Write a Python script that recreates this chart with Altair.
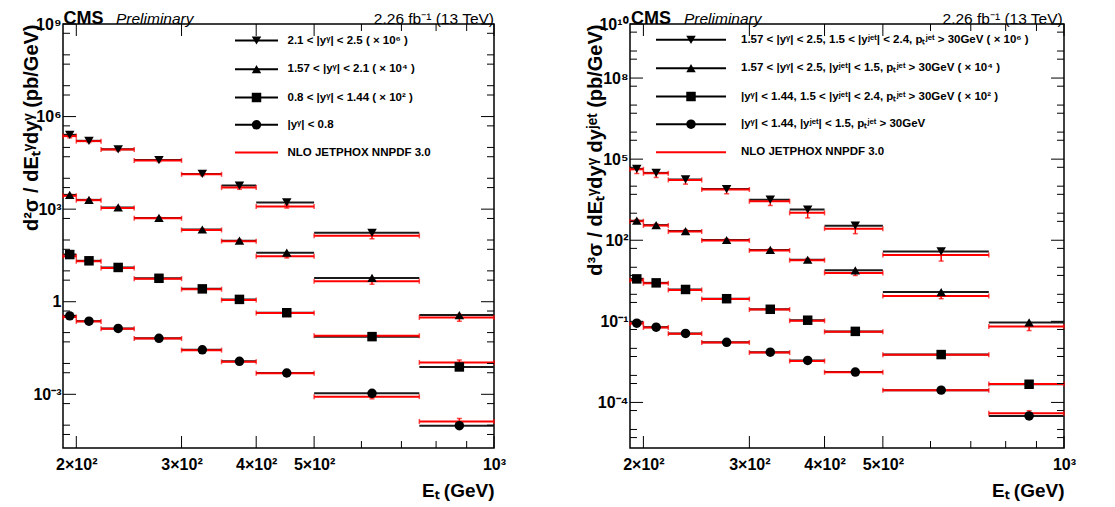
import altair as alt
import pandas as pd

FONT = "Liberation Sans"

# ---------------- data ----------------
bin_lo = [190, 200, 220, 250, 300, 350, 400, 500, 750]
bin_hi = [200, 220, 250, 300, 350, 400, 500, 750, 1000]
bin_c = [195, 210, 235, 275, 325, 375, 450, 625, 875]

series = ["down", "up", "square", "circle"]
shapes = {"down": "triangle-down", "up": "triangle-up", "square": "square", "circle": "circle"}

# left panel: d2sigma / dEt dy  (pb/GeV)
L_data = {
    "down": [2.56e5, 1.64e5, 8.7e4, 3.9e4, 1.38e4, 5.8e3, 1.65e3, 171],
    "up": [2.9e3, 2.0e3, 1.14e3, 519, 219, 95, 39, 5.9, 0.37],
    "square": [33.8, 21.2, 12.9, 5.75, 2.61, 1.19, 0.44, 0.074, 7.7e-3],
    "circle": [0.348, 0.235, 0.136, 0.065, 0.0277, 0.0117, 0.0049, 1.08e-3, 9.6e-5],
}
L_nlo = {
    "down": [2.33e5, 1.6e5, 8.5e4, 3.8e4, 1.35e4, 5.0e3, 1.23e3, 137],
    "up": [2.7e3, 1.95e3, 1.1e3, 505, 212, 92, 29.8, 4.6, 0.31],
    "square": [29.6, 20.5, 12.5, 5.6, 2.55, 1.13, 0.43, 0.079, 1.08e-2],
    "circle": [0.32, 0.23, 0.133, 0.064, 0.027, 0.0113, 0.0048, 8.4e-4, 1.32e-4],
}
L_err = {
    "down": [0.12, 0.10, 0.10, 0.10, 0.10, 0.12, 0.12, 0.20],
    "up": [0.10, 0.10, 0.10, 0.10, 0.10, 0.12, 0.12, 0.20, 0.25],
    "square": [0.08, 0.08, 0.08, 0.08, 0.08, 0.10, 0.10, 0.15, 0.20],
    "circle": [0.08, 0.08, 0.08, 0.08, 0.08, 0.10, 0.10, 0.15, 0.25],
}

# right panel: d3sigma / dEt dy dyjet  (pb/GeV)
R_data = {
    "down": [4.37e4, 3.1e4, 1.77e4, 7.85e3, 3.18e3, 1.37e3, 346, 38.6],
    "up": [527, 364, 219, 102, 44, 19, 7.7, 1.21, 0.091],
    "square": [3.72, 2.65, 1.51, 0.687, 0.279, 0.110, 0.0425, 5.9e-3, 4.7e-4],
    "circle": [0.0855, 0.061, 0.0358, 0.0168, 7.2e-3, 3.57e-3, 1.33e-3, 2.85e-4, 3.16e-5],
}
R_nlo = {
    "down": [4.2e4, 3.0e4, 1.7e4, 7.5e3, 2.76e3, 1.03e3, 269, 28.2],
    "up": [505, 350, 210, 98, 42, 18.3, 6.2, 0.86, 0.065],
    "square": [3.3, 2.55, 1.45, 0.665, 0.272, 0.105, 0.041, 5.8e-3, 4.8e-4],
    "circle": [0.083, 0.059, 0.035, 0.0165, 7.0e-3, 3.4e-3, 1.3e-3, 2.8e-4, 3.95e-5],
}
R_err = {
    "down": [0.30, 0.30, 0.30, 0.30, 0.30, 0.35, 0.35, 0.40],
    "up": [0.15, 0.15, 0.15, 0.15, 0.15, 0.15, 0.20, 0.20, 0.30],
    "square": [0.10, 0.10, 0.10, 0.10, 0.10, 0.10, 0.12, 0.15, 0.20],
    "circle": [0.10, 0.10, 0.10, 0.10, 0.10, 0.10, 0.12, 0.15, 0.25],
}

L_legend = [
    "2.1 < |yᵞ| < 2.5 ( × 10⁶ )",
    "1.57 < |yᵞ| < 2.1 ( × 10⁴ )",
    "0.8 < |yᵞ| < 1.44 ( × 10² )",
    "|yᵞ| < 0.8",
    "NLO JETPHOX NNPDF 3.0",
]
R_legend = [
    "1.57 < |yᵞ| < 2.5, 1.5 < |yʲᵉᵗ| < 2.4, pₜʲᵉᵗ > 30GeV ( × 10⁶ )",
    "1.57 < |yᵞ| < 2.5, |yʲᵉᵗ| < 1.5, pₜʲᵉᵗ > 30GeV ( × 10⁴ )",
    "|yᵞ| < 1.44, 1.5 < |yʲᵉᵗ| < 2.4, pₜʲᵉᵗ > 30GeV ( × 10² )",
    "|yᵞ| < 1.44, |yʲᵉᵗ| < 1.5, pₜʲᵉᵗ > 30GeV",
    "NLO JETPHOX NNPDF 3.0",
]
legend_kinds = ["down", "up", "square", "circle", "nlo"]

x_major = [200, 300, 400, 500, 1000]
x_major_labels = ["2×10²", "3×10²", "4×10²", "5×10²", "10³"]
x_minor = [600, 700, 800, 900]

L_y_major = [1e-3, 1, 1e3, 1e6, 1e9]
L_y_labels = ["10⁻³", "1", "10³", "10⁶", "10⁹"]
L_y_minor = [1e-4, 1e-2, 1e-1, 10, 100, 1e4, 1e5, 1e7, 1e8,
             5e-5, 5e-4, 5e-3, 5e-2, 0.5, 5, 50, 500, 5e3, 5e4, 5e5, 5e6, 5e7, 5e8]

R_y_major = [1e-4, 1e-1, 1e2, 1e5, 1e8, 1e10]
R_y_labels = ["10⁻⁴", "10⁻¹", "10²", "10⁵", "10⁸", "10¹⁰"]
R_y_minor = [1e-5, 1e-3, 1e-2, 1, 10, 1e3, 1e4, 1e6, 1e7, 1e9,
             5e-6, 5e-5, 5e-4, 5e-3, 5e-2, 0.5, 5, 50, 500, 5e3, 5e4, 5e5, 5e6, 5e7, 5e8, 5e9]

# ---------------- layout constants ----------------
TOP = 22.5      # page y of plot top
H = 424
LW, RW = 431, 434


def label_expr(vals, labels):
    e = "''"
    for v, l in zip(reversed(vals), reversed(labels)):
        e = f"datum.value == {repr(float(v))} ? '{l}' : ({e})"
    return e


def make_df(data, nlo, err):
    rows = []
    for s in series:
        for i, v in enumerate(data[s]):
            n = nlo[s][i]
            e = err[s][i]
            rows.append(dict(series=s, shape=shapes[s], lo=bin_lo[i], hi=bin_hi[i], c=bin_c[i],
                             val=v, nlo=n, nlo_lo=n * (1 - e), nlo_hi=n * (1 + e)))
    return pd.DataFrame(rows)


def panel(df, W, ydom, ymaj, ylab, ymin, ytitle, ytitle_x, legend, leg_geom, top_geom, spacer=False):
    xs = alt.Scale(type="log", domain=[190, 1000], nice=False)
    ys = alt.Scale(type="log", domain=ydom, nice=False)
    xaxis = alt.Axis(values=x_major, labelExpr=label_expr(x_major, x_major_labels), ticks=False, tickSize=0,
                     domain=False, grid=False, labelPadding=8, labelFont=FONT, labelFontSize=16,
                     labelFontWeight="bold", labelColor="black", labelFlush=False, labelOverlap=False,
                     title="Eₜ (GeV)", titleFont=FONT, titleFontSize=19, titleFontWeight="bold",
                     titleColor="black", titleX=W, titleY=48, titleAlign="right", titleBaseline="alphabetic")
    yaxis = alt.Axis(values=ymaj, labelExpr=label_expr(ymaj, ylab), ticks=False, tickSize=0,
                     domain=False, grid=False, labelPadding=2, labelFont=FONT, labelFontSize=16,
                     labelFontWeight="bold", labelColor="black", labelFlush=False, labelOverlap=False,
                     title=ytitle, titleFont=FONT, titleFontSize=20, titleFontWeight="bold",
                     titleColor="black", titleX=ytitle_x, titleY=0, titleAngle=270, titleAlign="right",
                     titleBaseline="alphabetic")
    X = lambda f: alt.X(f, scale=xs, axis=xaxis)
    Y = lambda f: alt.Y(f, scale=ys, axis=yaxis)
    base = alt.Chart(df)
    RED = "#ff0000"
    layers = [
        base.mark_rule(color="#1a1a1a", strokeWidth=2).encode(x=X("lo:Q"), x2="hi:Q", y=Y("val:Q")),
        base.mark_rule(color=RED, strokeWidth=2).encode(x=X("lo:Q"), x2="hi:Q", y=Y("nlo:Q")),
        base.mark_tick(color=RED, orient="vertical", size=5, thickness=1.5).encode(x=X("lo:Q"), y=Y("nlo:Q")),
        base.mark_tick(color=RED, orient="vertical", size=5, thickness=1.5).encode(x=X("hi:Q"), y=Y("nlo:Q")),
        base.mark_rule(color=RED, strokeWidth=1.5).encode(x=X("c:Q"), y=Y("nlo_lo:Q"), y2="nlo_hi:Q"),
        base.mark_tick(color=RED, orient="horizontal", size=5, thickness=1.5).encode(x=X("c:Q"), y=Y("nlo_lo:Q")),
        base.mark_tick(color=RED, orient="horizontal", size=5, thickness=1.5).encode(x=X("c:Q"), y=Y("nlo_hi:Q")),
        base.mark_point(filled=True, color="black", opacity=1, size=90).encode(
            x=X("c:Q"), y=Y("val:Q"), shape=alt.Shape("shape:N", scale=None, legend=None)),
    ]
    # inward ticks on all four sides
    for vals, L in [(ymaj, 13), (ymin, 7)]:
        t = alt.Chart(pd.DataFrame({"v": vals})).mark_rule(color="black", strokeWidth=1)
        layers.append(t.encode(y=Y("v:Q"), x=alt.value(0), x2=alt.value(L)))
        layers.append(t.encode(y=Y("v:Q"), x=alt.value(W - L), x2=alt.value(W)))
    for vals, L in [(x_major, 12), (x_minor, 7)]:
        t = alt.Chart(pd.DataFrame({"v": vals})).mark_rule(color="black", strokeWidth=1)
        layers.append(t.encode(x=X("v:Q"), y=alt.value(H), y2=alt.value(H - L)))
        layers.append(t.encode(x=X("v:Q"), y=alt.value(0), y2=alt.value(L)))
    # legend
    lx0, lx1, lm, lt, rows_y = leg_geom
    for lab, kind, yy in zip(legend, legend_kinds, rows_y):
        d1 = alt.Chart(pd.DataFrame({"t": [lab]}))
        col = RED if kind == "nlo" else "black"
        layers.append(d1.mark_rule(color=col, strokeWidth=2).encode(
            x=alt.value(lx0), x2=alt.value(lx1), y=alt.value(yy)))
        if kind != "nlo":
            layers.append(d1.mark_point(shape=shapes[kind], filled=True, color="black", opacity=1,
                                        size=90).encode(x=alt.value(lm), y=alt.value(yy)))
        layers.append(d1.mark_text(align="left", baseline="middle", font=FONT, fontSize=11.5,
                                   fontWeight="bold", color="black").encode(
            x=alt.value(lt), y=alt.value(yy), text="t:N"))
    # header texts
    cx, px, rx = top_geom
    layers.append(alt.Chart(pd.DataFrame({"t": ["CMS"]})).mark_text(
        align="left", baseline="alphabetic", font=FONT, fontSize=18, fontWeight="bold", color="black"
    ).encode(x=alt.value(cx), y=alt.value(-0.5), text="t:N"))
    layers.append(alt.Chart(pd.DataFrame({"t": ["Preliminary"]})).mark_text(
        align="left", baseline="alphabetic", font=FONT, fontSize=15.5, fontStyle="italic", color="black"
    ).encode(x=alt.value(px), y=alt.value(-0.5), text="t:N"))
    layers.append(alt.Chart(pd.DataFrame({"t": ["2.26 fb⁻¹ (13 TeV)"]})).mark_text(
        align="right", baseline="alphabetic", font=FONT, fontSize=15.5, color="black"
    ).encode(x=alt.value(rx), y=alt.value(-0.5), text="t:N"))
    if spacer:
        layers.append(alt.Chart(pd.DataFrame({"t": [""]})).mark_rule(color="white", strokeWidth=1).encode(
            x=alt.value(-53.5), y=alt.value(200), y2=alt.value(201)))
    return alt.layer(*layers).properties(width=W, height=H)


left = panel(make_df(L_data, L_nlo, L_err), LW, [1.82e-5, 1e9], L_y_major, L_y_labels, L_y_minor,
             "d²σ / dEₜᵞdyᵞ (pb/GeV)", -26,
             L_legend, (172, 215, 193.5, 224.5, [39 - TOP, 67.7 - TOP, 96 - TOP, 123.3 - TOP, 151 - TOP]),
             (0.5, 53, 431), spacer=True)
right = panel(make_df(R_data, R_nlo, R_err), RW, [2.06e-6, 1e10], R_y_major, R_y_labels, R_y_minor,
              "d³σ / dEₜᵞdyᵞ dyʲᵉᵗ (pb/GeV)", -29,
              R_legend, (26, 96, 61, 111, [38.3 - TOP, 66.7 - TOP, 95 - TOP, 122.7 - TOP, 150.7 - TOP]),
              (1, 54, 432.7))

chart = alt.hconcat(left, right, spacing=136, bounds="flush").properties(padding=0).configure_view(
    stroke="black", strokeWidth=1.5)

chart.save("out.html", embed_options={"renderer": "svg", "actions": False})
